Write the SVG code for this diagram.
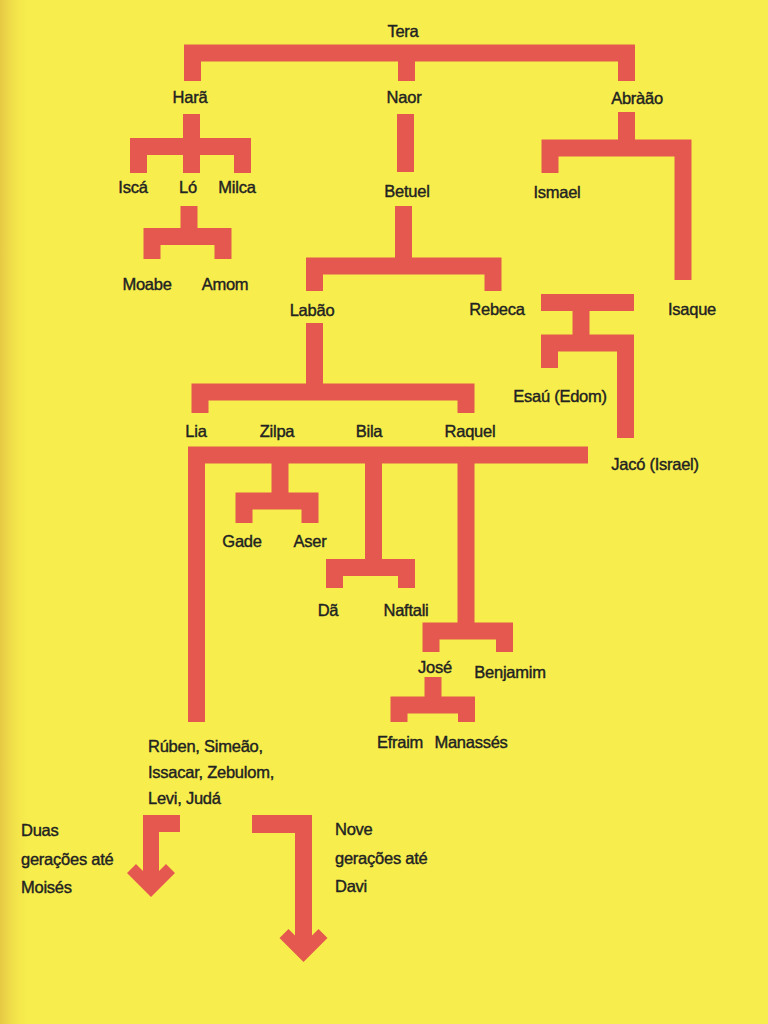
<svg xmlns="http://www.w3.org/2000/svg" width="768" height="1024" viewBox="0 0 768 1024">
  <defs>
    <linearGradient id="edge" x1="0" y1="0" x2="1" y2="0">
      <stop offset="0" stop-color="#e6c845" stop-opacity="1"/>
      <stop offset="1" stop-color="#f7ee4d" stop-opacity="0"/>
    </linearGradient>
    <style>
      .bg { fill: #f7ee4d; }
      .lnk { fill: none; stroke: #e4584f; stroke-width: 17; stroke-linecap: butt; stroke-linejoin: miter; }
      .arr { fill: #e4584f; stroke: none; }
      text { font-family: "Liberation Sans", Arial, sans-serif; font-size: 16.5px; fill: #222222; stroke: #222222; stroke-width: 0.4px; letter-spacing: -0.25px; }
      .c { text-anchor: middle; }
    </style>
  </defs>
  <rect class="bg" x="0" y="0" width="768" height="1024"/>
  <rect x="0" y="0" width="34" height="1024" fill="url(#edge)"/>

  <g id="connectors">
    <path class="lnk" d="M192.5,81 V53 H626.5 V81 M406.5,53 V81"/>
    <path class="lnk" d="M138.5,173 V146.5 H242.5 V173 M191.5,114 V173"/>
    <path class="lnk" d="M152,259 V236.5 H223 V259 M189,206 V236.5"/>
    <path class="lnk" d="M405.5,114 V172"/>
    <path class="lnk" d="M314.5,291 V266 H493 V291 M403.5,206 V266"/>
    <path class="lnk" d="M550,173 V148 H683 V280 M626.5,112 V148"/>
    <path class="lnk" d="M541,302.5 H634 M581,302.5 V343 M549.5,368 V343 H625.5 V438"/>
    <path class="lnk" d="M200,413 V392 H466 V413 M314.5,323 V392"/>
    <path class="lnk" d="M588,455 H196.5 V722 M280,455 V501 M373.5,455 V567.5 M466,455 V631"/>
    <path class="lnk" d="M244,523 V501 H310 V523"/>
    <path class="lnk" d="M334.5,588 V567.5 H406.5 V588"/>
    <path class="lnk" d="M431,652 V631 H504.5 V652"/>
    <path class="lnk" d="M399,722 V705 H466.5 V722 M433,677 V705"/>
    <polygon class="arr" points="143,815 180,815 180,832 159,832 159,871 166,864 175,873 151,897 127,873 136,864 143,871"/>
    <polygon class="arr" points="252,815 312,815 312,935.5 318.5,929 327.5,938 303.5,962 279.5,938 288.5,929 295,935.5 295,833 252,833"/>
  </g>

  <g id="tera"><text class="c" x="403" y="37">Tera</text></g>
  <g id="hara"><text class="c" x="190" y="103">Harã</text></g>
  <g id="naor"><text class="c" x="404" y="103">Naor</text></g>
  <g id="abraao"><text class="c" x="637" y="104">Abràão</text></g>
  <g id="isca"><text class="c" x="133" y="193">Iscá</text></g>
  <g id="lo"><text class="c" x="188" y="193">Ló</text></g>
  <g id="milca"><text class="c" x="237" y="193">Milca</text></g>
  <g id="betuel"><text class="c" x="407" y="197">Betuel</text></g>
  <g id="ismael"><text class="c" x="557" y="198">Ismael</text></g>
  <g id="moabe"><text class="c" x="147" y="290">Moabe</text></g>
  <g id="amom"><text class="c" x="225" y="290">Amom</text></g>
  <g id="labao"><text class="c" x="312" y="316">Labão</text></g>
  <g id="rebeca"><text class="c" x="497" y="315">Rebeca</text></g>
  <g id="isaque"><text class="c" x="692" y="315">Isaque</text></g>
  <g id="esau"><text class="c" x="560" y="402">Esaú (Edom)</text></g>
  <g id="lia"><text class="c" x="196" y="437">Lia</text></g>
  <g id="zilpa"><text class="c" x="277" y="437">Zilpa</text></g>
  <g id="bila"><text class="c" x="369" y="437">Bila</text></g>
  <g id="raquel"><text class="c" x="470" y="437">Raquel</text></g>
  <g id="jaco"><text class="c" x="655" y="470">Jacó (Israel)</text></g>
  <g id="gade"><text class="c" x="242" y="547">Gade</text></g>
  <g id="aser"><text class="c" x="310" y="547">Aser</text></g>
  <g id="da"><text class="c" x="328" y="616">Dã</text></g>
  <g id="naftali"><text class="c" x="406" y="616">Naftali</text></g>
  <g id="jose"><text class="c" x="435" y="673">José</text></g>
  <g id="benjamim"><text class="c" x="510" y="678">Benjamim</text></g>
  <g id="efraim"><text class="c" x="400" y="748">Efraim</text></g>
  <g id="manasses"><text class="c" x="471" y="748">Manassés</text></g>
  <g id="filhos-lia">
    <text x="148" y="752">Rúben, Simeão,</text>
    <text x="148" y="778">Issacar, Zebulom,</text>
    <text x="148" y="804">Levi, Judá</text>
  </g>
  <g id="moises">
    <text x="21" y="836">Duas</text>
    <text x="21" y="865">gerações até</text>
    <text x="21" y="893">Moisés</text>
  </g>
  <g id="davi">
    <text x="335" y="835">Nove</text>
    <text x="335" y="864">gerações até</text>
    <text x="335" y="892">Davi</text>
  </g>
</svg>
